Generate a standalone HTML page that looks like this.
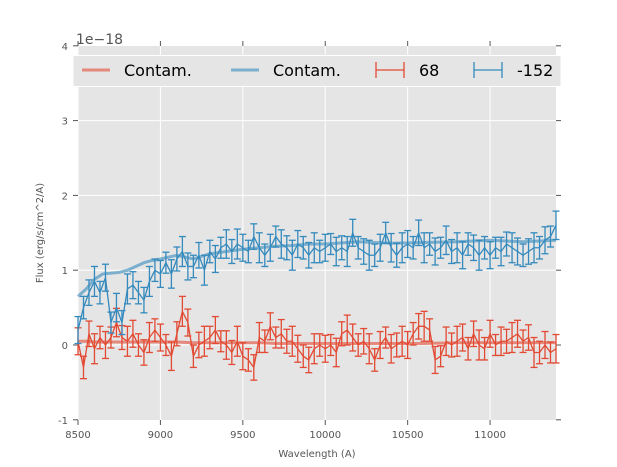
<!DOCTYPE html>
<html><head><meta charset="utf-8"><style>
body{margin:0;background:#fff;}
svg{display:block;font-family:"DejaVu Sans","Liberation Sans",sans-serif;}
</style></head><body>
<svg id="chart" width="617" height="467" viewBox="0 0 617 467" xmlns="http://www.w3.org/2000/svg">
<rect x="78" y="46" width="478" height="374" fill="#e5e5e5"/>
<g id="grid"></g>
<g id="ticks"></g>
<g id="series"></g>
<text x="76" y="44" font-size="14" fill="#555">1e−18</text>
<text x="317" y="457" font-size="10" fill="#555" text-anchor="middle">Wavelength (A)</text>
<text transform="translate(43,233) rotate(-90)" font-size="10" fill="#555" text-anchor="middle">Flux (erg/s/cm^2/A)</text>
<g>
<rect x="73" y="55.5" width="488" height="31" fill="#e5e5e5" stroke="#fff" stroke-width="1"/>
<g>
<line x1="82" y1="70" x2="110" y2="70" stroke="#E24A33" stroke-opacity="0.6" stroke-width="3"/>
<text x="124" y="76" font-size="16" fill="#000">Contam.</text></g>
<g>
<line x1="231" y1="70" x2="259" y2="70" stroke="#348ABD" stroke-opacity="0.6" stroke-width="3"/>
<text x="273" y="76" font-size="16" fill="#000">Contam.</text></g>
<g stroke="#E24A33" stroke-width="1.3">
<line x1="376" y1="70" x2="404" y2="70"/><line x1="376" y1="62" x2="376" y2="78"/><line x1="404" y1="62" x2="404" y2="78"/>
<text x="419" y="76" font-size="16" fill="#000" stroke="none">68</text></g>
<g stroke="#348ABD" stroke-width="1.3">
<line x1="474" y1="70" x2="502" y2="70"/><line x1="474" y1="62" x2="474" y2="78"/><line x1="502" y1="62" x2="502" y2="78"/>
<text x="517" y="76" font-size="16" fill="#000" stroke="none">-152</text></g>
</g>
</svg>
<script>
const xTicks=[8500,9000,9500,10000,10500,11000];
const yTicks=[-1,0,1,2,3,4];
const blueVals=[0.2,0.5,0.7,0.85,0.7,0.9,0.3,0.5,0.3,0.75,0.8,0.7,0.6,0.85,1.0,
0.95,1.1,0.95,1.15,1.25,1.05,1.05,1.2,1.0,1.25,1.15,1.3,1.35,1.25,1.35,
1.3,1.25,1.45,1.3,1.2,1.3,1.45,1.35,1.3,1.2,1.35,1.3,1.2,1.3,1.25,
1.3,1.35,1.25,1.3,1.25,1.5,1.3,1.25,1.2,1.2,1.3,1.5,1.3,1.2,1.3,
1.35,1.3,1.5,1.3,1.35,1.25,1.3,1.4,1.25,1.3,1.2,1.35,1.3,1.2,1.3,
1.2,1.3,1.25,1.35,1.3,1.25,1.2,1.25,1.3,1.3,1.4,1.45,1.6];
const redVals=[0.05,-0.3,0.15,-0.05,0.1,0.0,0.1,0.3,0.1,0.05,0.15,0.0,-0.1,0.1,0.2,
0.1,0.0,-0.15,0.15,0.45,0.3,-0.15,0.0,0.05,0.1,0.2,0.05,0.0,-0.1,0.05,
-0.15,-0.2,-0.3,0.1,0.05,0.25,0.1,0.15,0.05,0.05,-0.05,-0.15,-0.2,-0.05,0.0,
-0.05,0.0,-0.1,0.15,0.2,0.1,0.0,0.05,-0.05,-0.2,0.0,0.1,-0.05,0.0,0.05,
0.0,0.15,0.25,0.25,0.2,-0.2,-0.15,0.05,0.0,0.05,0.1,-0.05,0.15,0.0,-0.05,
0.15,0.0,0.05,0.05,0.1,0.15,0.05,0.1,-0.1,-0.1,0.0,-0.1,-0.05];
const errPattern=[0.18,0.15,0.17,0.2,0.15,0.18,0.14,0.19,0.16,0.2];
const contamX=[8500,8550,8600,8650,8700,8750,8800,8850,8900,8950,9000,9100,9200,9300,9400,9500,9600,9700,9800,9900,10000,10200,10400,10600,10800,11000,11200,11400];
const contamBlue=[0.65,0.75,0.88,0.95,0.96,0.97,1.0,1.05,1.1,1.13,1.15,1.2,1.15,1.22,1.25,1.28,1.3,1.32,1.33,1.35,1.35,1.38,1.36,1.37,1.38,1.4,1.38,1.4];
const contamRed=[0.05,0.05,0.04,0.04,0.04,0.04,0.04,0.04,0.04,0.04,0.04,0.04,0.03,0.03,0.03,0.03,0.03,0.02,0.02,0.02,0.02,0.02,0.02,0.02,0.03,0.03,0.03,0.03];
const x0=8500,x1=11400;
const X=v=>78+(v-8500)*(478/2900);
const Y=v=>345-v*74.8;
const NS="http://www.w3.org/2000/svg";
function mk(t,a,p){const e=document.createElementNS(NS,t);for(const k in a)e.setAttribute(k,a[k]);p.appendChild(e);return e;}
const grid=document.getElementById('grid'),ticks=document.getElementById('ticks'),ser=document.getElementById('series');
xTicks.forEach(t=>{const x=X(t);
const g=mk('line',{x1:x,y1:46,x2:x,y2:420,stroke:'#fff','stroke-width':1},grid);


mk('line',{x1:x,y1:420,x2:x,y2:425,stroke:'#555'},ticks);
mk('line',{x1:x,y1:41,x2:x,y2:46,stroke:'#555'},ticks);
const l=mk('text',{x:x,y:438,'font-size':10,fill:'#555','text-anchor':'middle'},ticks);l.textContent=t;

});
yTicks.forEach(t=>{const y=Y(t);
if(t>-1&&t<4){const g=mk('line',{x1:78,y1:y,x2:556,y2:y,stroke:'#fff','stroke-width':1},grid);

}
mk('line',{x1:73,y1:y,x2:78,y2:y,stroke:'#555'},ticks);
mk('line',{x1:556,y1:y,x2:561,y2:y,stroke:'#555'},ticks);
const l=mk('text',{x:68,y:y+4,'font-size':10,fill:'#555','text-anchor':'end'},ticks);l.textContent=t;

});
function contam(vals,col,name){
const p=mk('polyline',{points:contamX.map((w,i)=>X(w)+','+Y(vals[i])).join(' '),fill:'none',stroke:col,'stroke-opacity':0.6,'stroke-width':3},ser);

}
function errSeries(vals,col,name){
const g=mk('g',{stroke:col,'stroke-width':1.3,fill:'none'},ser);


const step=(x1-x0)/(vals.length-1);
vals.forEach((v,i)=>{const x=X(x0+i*step),e=errPattern[i%errPattern.length];
mk('line',{x1:x,y1:Y(v-e),x2:x,y2:Y(v+e)},g);
mk('line',{x1:x-3.5,y1:Y(v-e),x2:x+3.5,y2:Y(v-e)},g);
mk('line',{x1:x-3.5,y1:Y(v+e),x2:x+3.5,y2:Y(v+e)},g);});
mk('polyline',{points:vals.map((v,i)=>X(x0+i*step)+','+Y(v)).join(' ')},g);}
contam(contamRed,'#E24A33','contam-line-68');
contam(contamBlue,'#348ABD','contam-line-minus-152');
errSeries(redVals,'#E24A33','series-68');
errSeries(blueVals,'#348ABD','series-minus-152');
</script>
</body></html>
